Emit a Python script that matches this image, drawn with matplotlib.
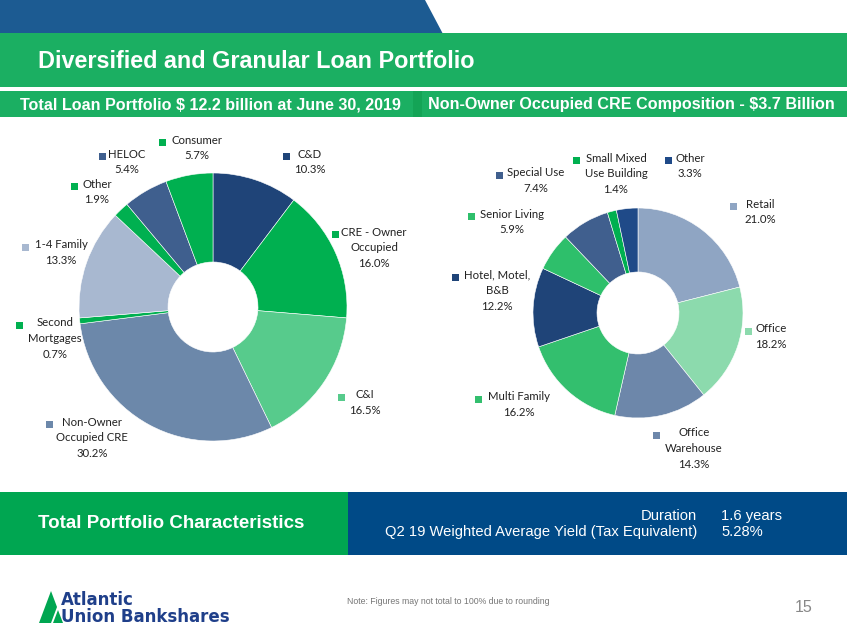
import matplotlib.pyplot as plt
from matplotlib.patches import Rectangle, Polygon

# ---- data ----
loan_labels = ["C&D", "CRE - Owner\nOccupied", "C&I", "Non-Owner\nOccupied CRE",
               "Second\nMortgages", "1-4 Family", "Other", "HELOC", "Consumer"]
loan_values = [10.3, 16.0, 16.5, 30.2, 0.7, 13.3, 1.9, 5.4, 5.7]
loan_colors = ["#1F4478", "#00B050", "#57CB8C", "#6C88AA", "#00B050",
               "#A8B8D0", "#00B050", "#3F5F8E", "#00B050"]

cre_labels = ["Retail", "Office", "Office\nWarehouse", "Multi Family", "Hotel, Motel,\nB&B",
              "Senior Living", "Special Use", "Small Mixed\nUse Building", "Other"]
cre_values = [21.0, 18.2, 14.3, 16.2, 12.2, 5.9, 7.4, 1.4, 3.3]
cre_colors = ["#8FA5C3", "#8CDAAD", "#6D87AA", "#33BF6E", "#1F4478",
              "#2EBF6B", "#405F8E", "#00B050", "#1F4A88"]

stat_labels = ["Duration", "Q2 19 Weighted Average Yield (Tax Equivalent)"]
stat_values = ["1.6 years", "5.28%"]

# label placement (marker x, marker y, text centre x) in pixels
loan_pos = [(286, 156, 310), (335, 234, 374), (341, 397, 365), (49, 424, 92),
            (19, 325, 55), (25, 247, 61), (74, 186, 97), (102, 156, 127), (162, 142, 197)]
cre_pos = [(733, 206, 760), (748, 331, 771), (656, 435, 694), (478, 399, 519),
           (455, 277, 497), (471, 216, 512), (499, 175, 536), (576, 160, 616), (668, 160, 690)]

W, H = 847, 635
BLUE = "#1C5B92"
GREEN = "#1BAF62"
NAVY = "#1F3F8A"
LBL_FONT = "Lato"

fig = plt.figure(figsize=(W / 100, H / 100), dpi=100)
ax = fig.add_axes([0, 0, 1, 1])
ax.set_xlim(0, W)
ax.set_ylim(H, 0)
ax.axis("off")

# header bands
ax.add_patch(Polygon([(0, 0), (425, 0), (443, 34), (0, 34)], color=BLUE, lw=0))
ax.add_patch(Rectangle((0, 33), W, 54, color=GREEN, lw=0))
ax.add_patch(Rectangle((0, 91), W, 26, color=GREEN, lw=0))
ax.add_patch(Rectangle((413, 91), 9, 26, color="#14A456", lw=0))
ax.text(38, 62, "Diversified and Granular Loan Portfolio", color="white",
        fontsize=16.8, fontweight="bold", family="Liberation Sans", va="center")
ax.text(20, 104.5, "Total Loan Portfolio $ 12.2 billion at June 30, 2019", color="white",
        fontsize=11.6, fontweight="bold", family="Liberation Sans", va="center")
ax.text(428, 104.5, "Non-Owner Occupied CRE Composition - $3.7 Billion", color="white",
        fontsize=11.6, fontweight="bold", family="Liberation Sans", va="center")


def draw_donut(cx, cy, r, hole, values, colors, labels, pos):
    pax = fig.add_axes([(cx - r) / W, 1 - (cy + r) / H, 2 * r / W, 2 * r / H])
    pax.pie(values, colors=colors, startangle=90, counterclock=False,
            wedgeprops=dict(width=1 - hole / r, edgecolor="white", linewidth=0.4))
    pax.set_xlim(-1, 1)
    pax.set_ylim(-1, 1)
    for lab, val, col, (mx, my, tx) in zip(labels, values, colors, pos):
        ax.add_patch(Rectangle((mx - 3.5, my - 3.5), 7, 7, color=col, lw=0))
        ax.text(tx, my - 7.5, f"{lab}\n{val:.1f}%", ha="center", va="top",
                fontsize=8.2, family=LBL_FONT, color="#222222", linespacing=1.55)


draw_donut(213, 307, 134, 45, loan_values, loan_colors, loan_labels, loan_pos)
draw_donut(638, 313, 105, 41, cre_values, cre_colors, cre_labels, cre_pos)

# bottom characteristics band
ax.add_patch(Rectangle((0, 492), 348, 63, color="#00A651", lw=0))
ax.add_patch(Rectangle((348, 492), W - 348, 63, color="#004A87", lw=0))
ax.text(38, 523, "Total Portfolio Characteristics", color="white", fontsize=13.5,
        fontweight="bold", family="Liberation Sans", va="center")
for i, (lab, val) in enumerate(zip(stat_labels, stat_values)):
    y = 516 + i * 16
    ax.text(697, y, lab, color="white", fontsize=10.6, family="Liberation Sans",
            ha="right", va="center")
    ax.text(721, y, val, color="white", fontsize=10.6, family="Liberation Sans",
            ha="left", va="center")

# footer logo
ax.add_patch(Polygon([(39, 623), (51, 591), (57, 607), (51, 623)], color="#00A651", lw=0))
ax.add_patch(Polygon([(53, 623), (58, 610), (63, 623)], color="#00A651", lw=0))
ax.text(61, 622, "Atlantic\nUnion Bankshares", color=NAVY, fontsize=12, fontweight="bold",
        family="DejaVu Sans", va="baseline", linespacing=0.92)
ax.text(347, 601, "Note: Figures may not total to 100% due to rounding", color="#777777",
        fontsize=6.3, family="Liberation Sans", va="center")
ax.text(813, 607, "15", color="#888888", fontsize=11.5, family="Liberation Sans",
        ha="right", va="center")

fig.savefig("out.png", dpi=100)
